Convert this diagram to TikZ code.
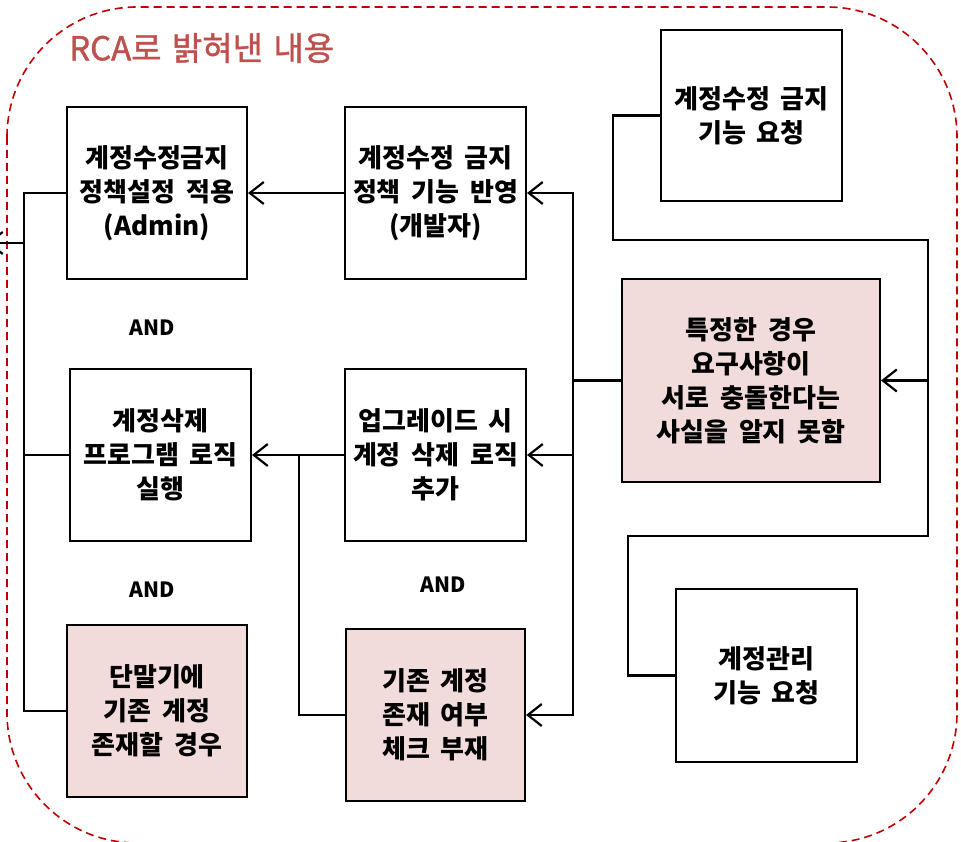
\documentclass[tikz,border=0pt]{standalone}
\usepackage{fontspec}
\setmainfont{Noto Sans CJK KR}[WordSpace=1.8]
\newfontfamily\titlefont{Noto Sans CJK KR}[WordSpace=1.4,BoldFont={Noto Sans CJK KR},BoldFeatures={FakeBold=1.2}]
\usetikzlibrary{arrows.meta}
\definecolor{pinkfill}{HTML}{F2DCDB}
\definecolor{titlered}{HTML}{C0504D}
\definecolor{dashred}{HTML}{C00000}
\tikzset{
  box/.style={draw=black, line width=2pt, fill=white, inner sep=0pt, align=center,
    font=\fontsize{26pt}{34pt}\selectfont\bfseries},
  pinkbox/.style={box, fill=pinkfill},
  conn/.style={line width=2.4pt, black},
  arr/.style={conn, -{Straight Barb[length=14pt,width=22pt,line width=2.2pt]}},
  andlbl/.style={font=\fontsize{21pt}{24pt}\selectfont\bfseries, inner sep=0pt},
  frame/.style={draw=dashred, dash pattern=on 8pt off 5pt, line width=1.6pt, rounded corners=130pt}
}
\begin{document}
\begin{tikzpicture}[x=1pt,y=-1pt]
\useasboundingbox (0,0) rectangle (961,842);
\fill[white] (0,0) rectangle (961,842);
\draw[frame] (7,7) rectangle (957,843);
\node[anchor=west, inner sep=0pt, text=titlered, font=\titlefont\fontsize{33pt}{37pt}\selectfont\bfseries] (title) at (69,48) {RCA로 밝혀낸 내용};

\node[box, minimum width=180pt, minimum height=172pt] (b1) at (157,193) {계정수정금지\\정책설정 적용\\(Admin)};
\node[box, minimum width=181pt, minimum height=172pt] (b2) at (435.5,193) {계정수정 금지\\정책 기능 반영\\(개발자)};
\node[box, minimum width=181pt, minimum height=171pt] (b3) at (751.5,115.5) {계정수정 금지\\기능 요청};
\node[pinkbox, minimum width=258pt, minimum height=203pt] (b4) at (751,380.5) {특정한 경우\\요구사항이\\서로 충돌한다는\\사실을 알지 못함};
\node[box, minimum width=181pt, minimum height=172pt] (b5) at (160.5,455) {계정삭제\\프로그램 로직\\실행};
\node[box, minimum width=181pt, minimum height=172pt] (b6) at (435.5,455) {업그레이드 시\\계정 삭제 로직\\추가};
\node[pinkbox, minimum width=180pt, minimum height=172pt] (b7) at (157,711) {단말기에\\기존 계정\\존재할 경우};
\node[pinkbox, minimum width=179pt, minimum height=172pt] (b8) at (435.5,715) {기존 계정\\존재 여부\\체크 부재};
\node[box, minimum width=181pt, minimum height=173pt] (b9) at (766.5,675.5) {계정관리\\기능 요청};

\node[andlbl] (and1) at (152,328) {AND};
\node[andlbl] (and2) at (152,590) {AND};
\node[andlbl] (and3) at (443,585) {AND};

% left bracket
\coordinate (l1) at (24,193);
\coordinate (l2) at (24,243);
\coordinate (l4) at (24,455);
\coordinate (l3) at (24,711);
\coordinate (lx) at (-13,243);
\draw[conn] (b1.west) -- (l1) -- (l3) -- (b7.west);
\draw[conn] (b5.west) -- (l4);
\draw[arr] (l2) -- (lx);

% middle
\draw[arr] (b2) -- (b1);
\draw[arr] (b6) -- (b5);
\coordinate (j1) at (299,455);
\draw[conn] (b8.west) -| (j1);

% from b4
\coordinate (j2) at (573,380.5);
\draw[conn] (b4.west) -- (j2);
\draw[arr] (j2) |- (b2.east);
\draw[arr] (j2) |- (b6.east);
\draw[arr] (j2) |- (b8.east);

% into b4
\coordinate (r1) at (613,240);
\coordinate (r2) at (928,240);
\coordinate (j3) at (928,380.5);
\coordinate (r3) at (628,536);
\coordinate (r4) at (928,536);
\draw[conn] (b3.west) -| (r1) -- (r2) -- (j3);
\draw[conn] (b9.west) -| (r3) -- (r4) -- (j3);
\draw[arr] (j3) -- (b4.east);
\end{tikzpicture}
\end{document}
